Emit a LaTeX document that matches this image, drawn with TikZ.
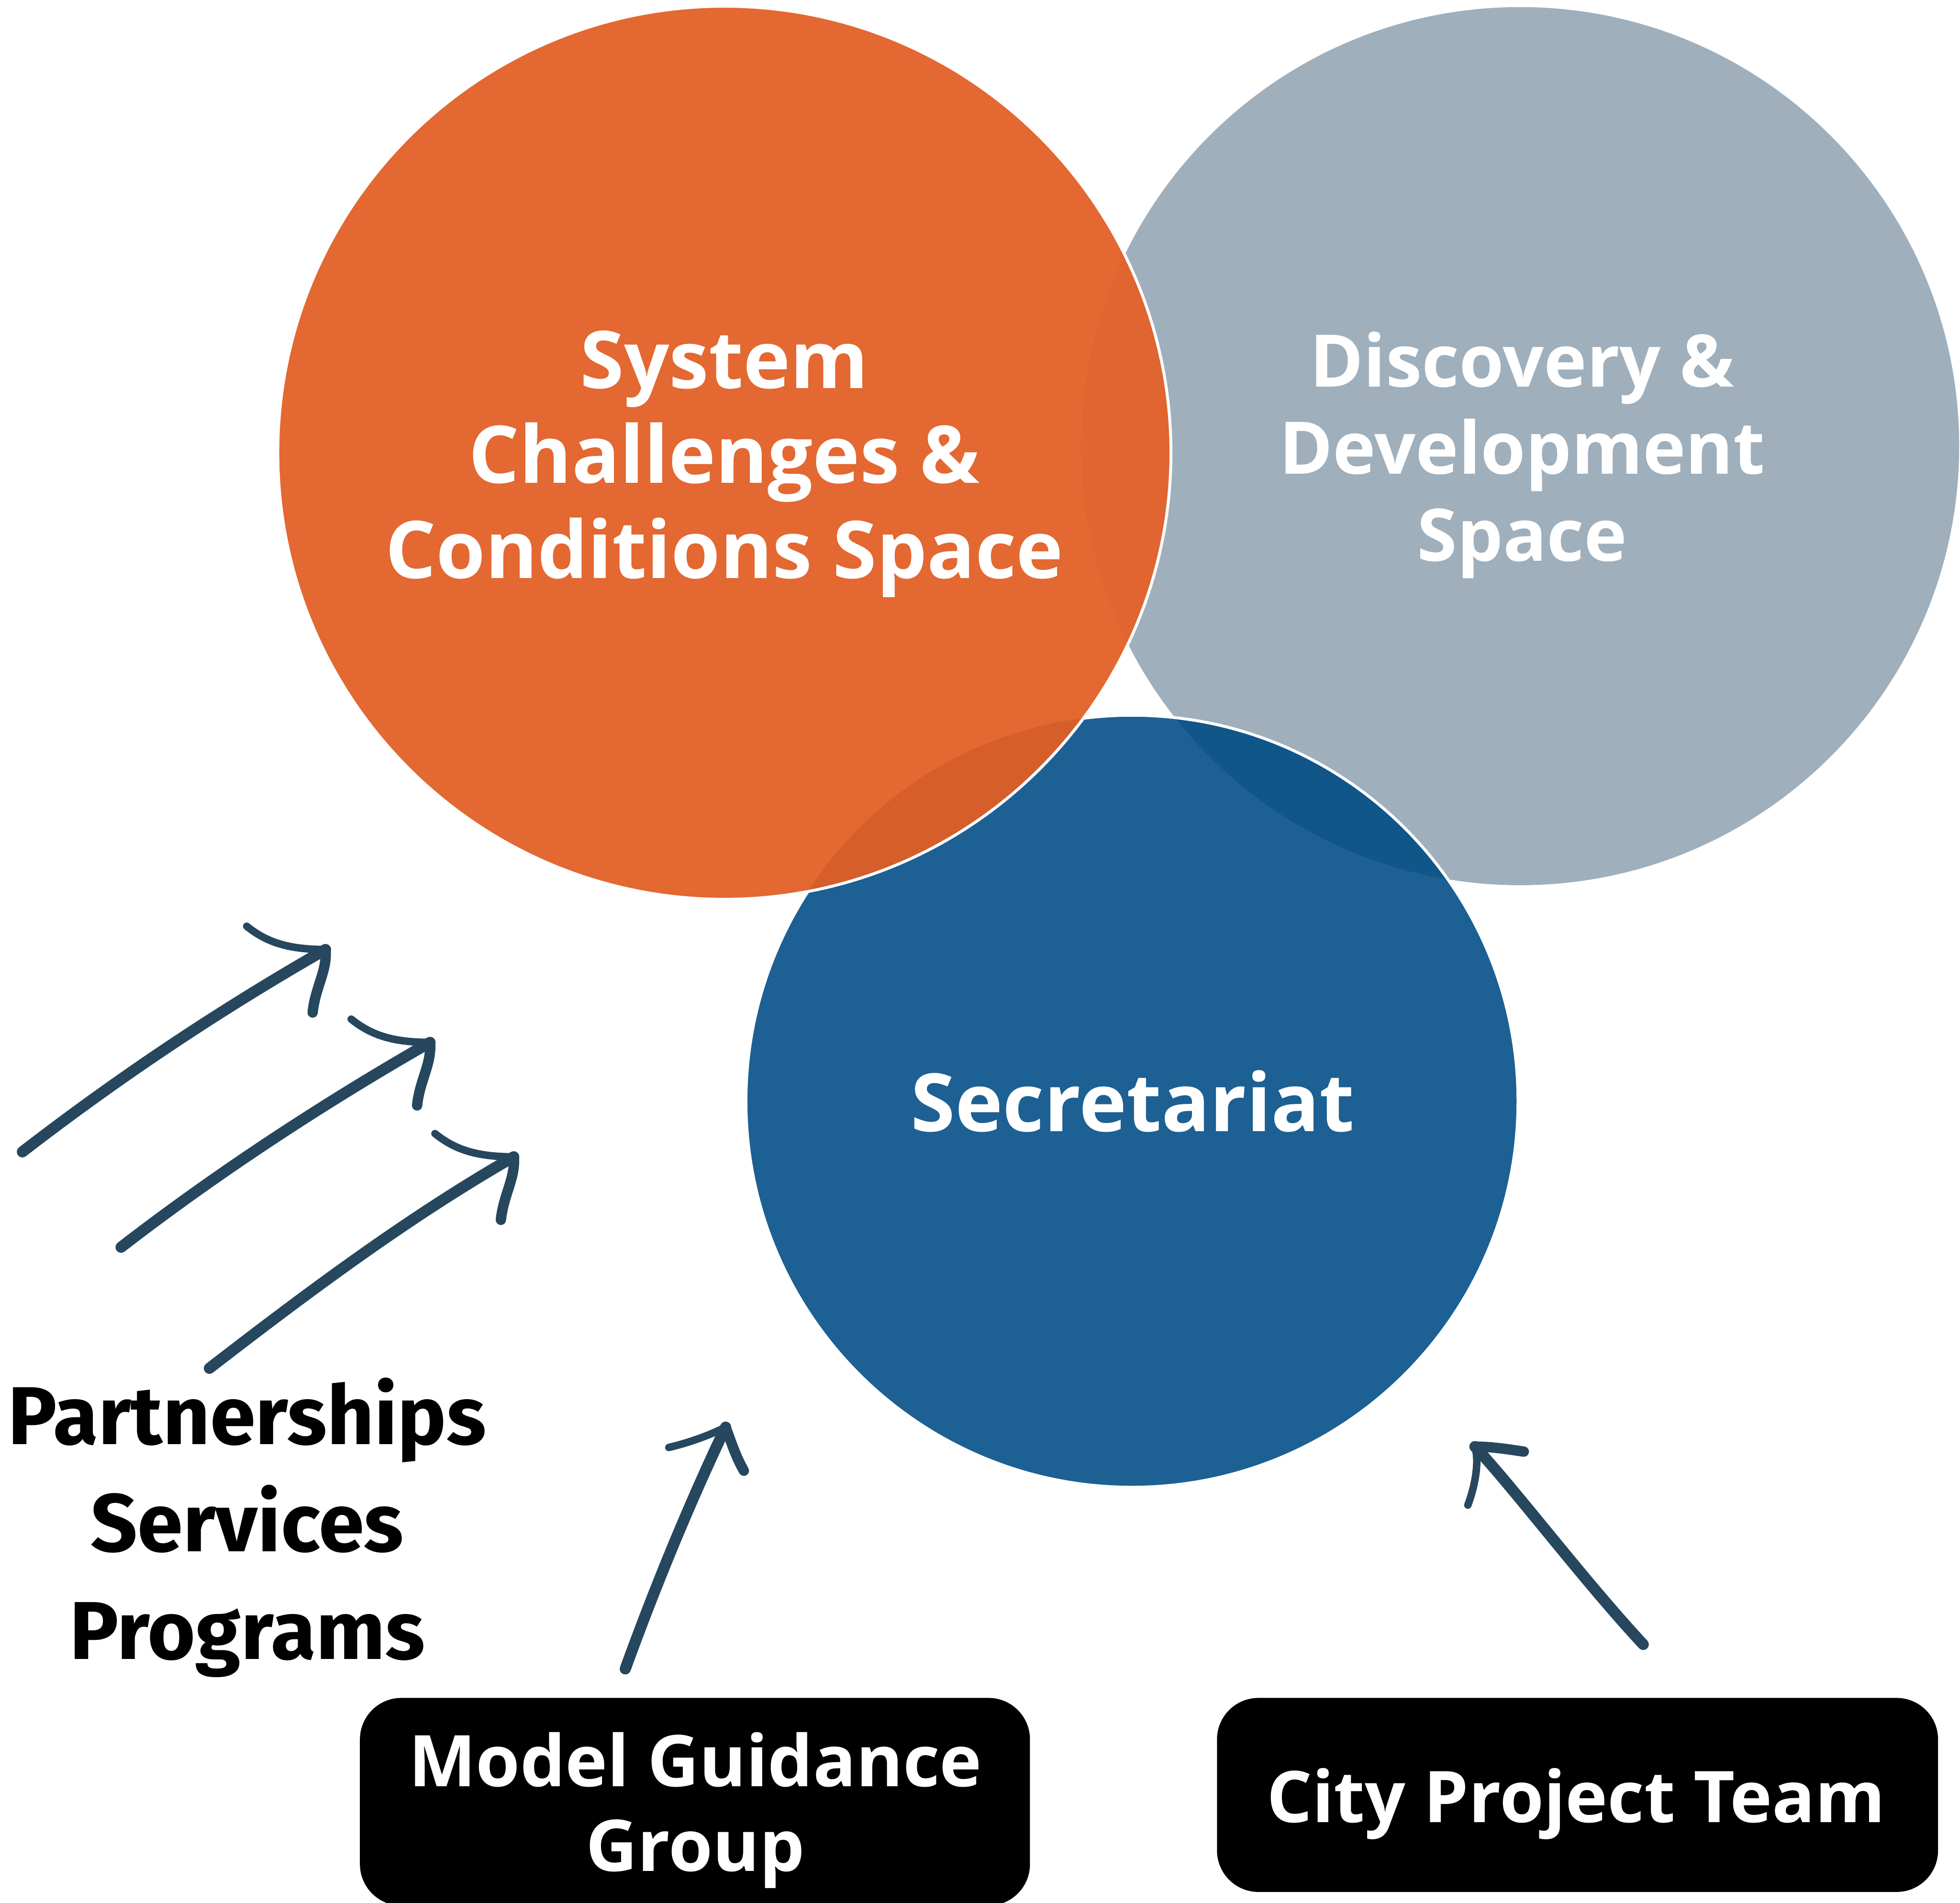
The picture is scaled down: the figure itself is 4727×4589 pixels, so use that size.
\documentclass[tikz,border=0pt]{standalone}
\usepackage{fontspec}
\setmainfont{Open Sans}
\newfontfamily\sidefont{Fira Sans}

\definecolor{sysorange}{RGB}{227,104,49}
\definecolor{devgray}{RGB}{159,175,188}
\definecolor{secblue}{RGB}{29,96,147}
\definecolor{orangeOnGray}{RGB}{224,101,48}
\definecolor{orangeOnBlue}{RGB}{213,94,42}
\definecolor{blueOnGray}{RGB}{17,86,137}
\definecolor{inkblue}{RGB}{38,71,94}

\begin{document}
\begin{tikzpicture}[x=0.1pt,y=-0.1pt,
  space/.style={circle, inner sep=0pt, outer sep=0pt, draw=none},
  rim/.style={draw=white, line width=0.7pt},
  spacetext/.style={text=white, align=center, inner sep=0pt, anchor=base},
  sidetext/.style={text=black, align=center, inner sep=0pt, anchor=base,
    font=\sidefont\bfseries\fontsize{19.8pt}{25.95pt}\selectfont},
  blackbox/.style={rectangle, rounded corners=10pt, fill=black, draw=none, inner sep=0pt},
  boxtext/.style={text=white, align=center, inner sep=0pt, anchor=base,
    font=\bfseries\fontsize{17.2pt}{20.45pt}\selectfont},
  brush/.style={draw=inkblue, line width=2.7pt, line cap=round, line join=round},
  heel/.style={brush, line width=2.5pt},
  barb/.style={brush, line width=1.8pt},
]
\useasboundingbox (0,0) rectangle (4727,4589);

% --- the three spaces -------------------------------------------------
\node[space, fill=devgray, minimum size=211.8pt] (dev) at (3666,1076) {};
\node[space, fill=secblue, minimum size=186.2pt] (sec) at (2730,2656) {};
\begin{scope}
  \clip (sec.center) circle[radius=93.1pt];
  \fill[blueOnGray] (dev.center) circle[radius=105.9pt];
\end{scope}
\draw[rim] (sec.center) circle[radius=93.1pt];

\node[space, fill=sysorange, minimum size=215.4pt] (sys) at (1747,1092) {};
\begin{scope}
  \clip (sys.center) circle[radius=107.7pt];
  \fill[orangeOnGray] (dev.center) circle[radius=105.9pt];
  \fill[orangeOnBlue] (sec.center) circle[radius=93.1pt];
\end{scope}
\draw[rim] (sys.center) circle[radius=107.7pt];

% --- labels of the spaces (anchored at the last baseline) -------------
\node[spacetext, font=\bfseries\fontsize{19.2pt}{22.95pt}\selectfont] (systxt)
  at (1747,1395) {System\\Challenges \&\\Conditions Space};
\node[spacetext, font=\bfseries\fontsize{17.5pt}{21pt}\selectfont] (devtxt)
  at (3671,1353) {Discovery \&\\Development\\Space};
\node[spacetext, font=\bfseries\fontsize{19.4pt}{23pt}\selectfont] (sectxt)
  at (2732,2729) {Secretariat};

% --- side label and groups -------------------------------------------
\node[sidetext] (offer) at (596,4002) {Partnerships\\Services\\Programs};

\node[blackbox, minimum width=161.6pt, minimum height=50.1pt] (mgg) at (1676,4345.5) {};
\node[boxtext] (mggtxt) at (1677,4513) {Model Guidance\\Group};
\node[blackbox, minimum width=173.9pt, minimum height=46.8pt] (cpt) at (3804.5,4329) {};
\node[boxtext] (cpttxt) at (3801,4395) {City Project Team};

% --- hand-drawn arrows ------------------------------------------------
\coordinate (a1t) at (54,2778);   \coordinate (a1h) at (785,2290);
\coordinate (a2t) at (292,3008);  \coordinate (a2h) at (1037,2514);
\coordinate (a3t) at (505,3300);  \coordinate (a3h) at (1239,2790);
\coordinate (a4t) at (1508,4025); \coordinate (a4h) at (1750,3442);
\coordinate (a5t) at (3963,3966); \coordinate (a5h) at (3557,3489);

\foreach \t/\h in {a1t/a1h, a2t/a2h, a3t/a3h}{
  \draw[brush] (\t) .. controls +(233,-180) and +(-255,146) .. (\h);
  \draw[barb]  (\h) .. controls +(-95,0) and +(45,36) .. +(-190,-56);
  \draw[heel]  (\h) .. controls +(5,50) and +(6,-60) .. +(-31,152);
}

\draw[brush] (a4t) .. controls +(72,-198) and +(-90,190) .. (a4h);
\draw[barb]  (a4h) .. controls +(-40,20) and +(50,-12) .. +(-137,49);
\draw[heel]  (a4h) .. controls +(15,40) and +(-20,-35) .. +(44,105);

\draw[brush] (a5t) .. controls +(-140,-150) and +(90,95) .. (a5h);
\draw[heel]  (a5h) .. controls +(40,0) and +(-40,-6) .. +(118,12);
\draw[barb]  (a5h) .. controls +(12,40) and +(15,-40) .. +(-17,141);
\end{tikzpicture}
\end{document}
